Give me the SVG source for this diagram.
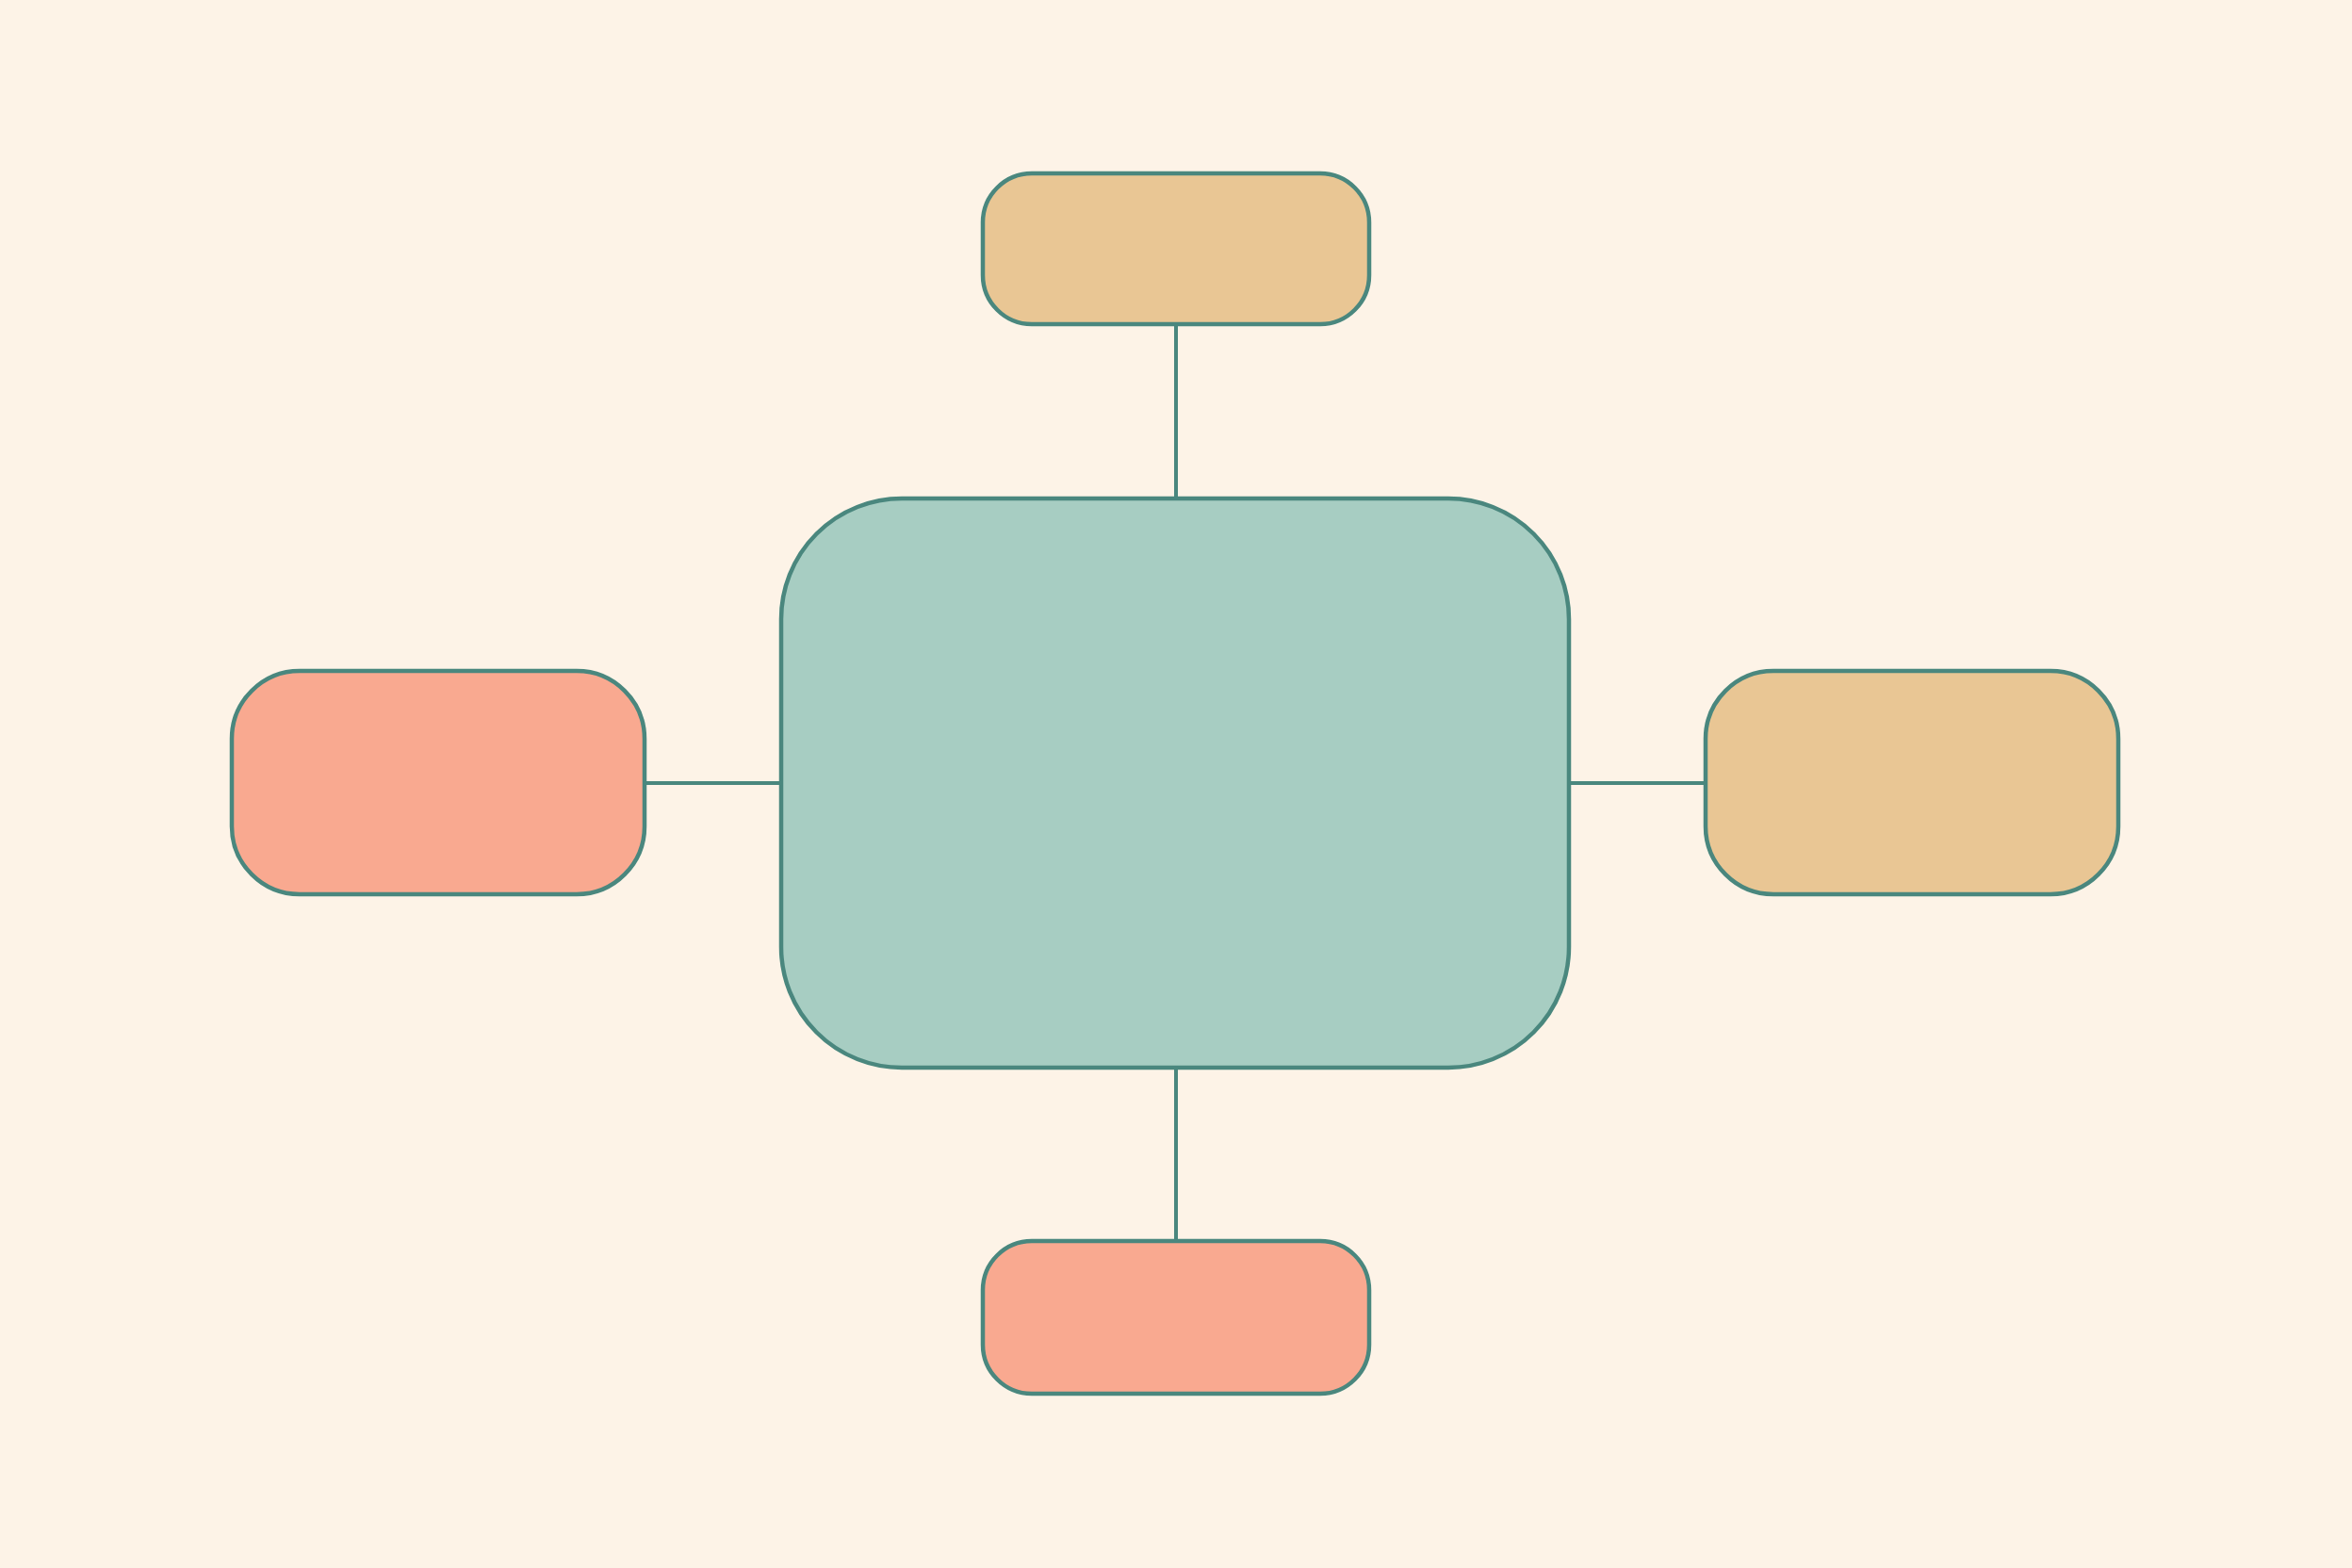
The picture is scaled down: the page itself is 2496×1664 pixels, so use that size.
<svg xmlns="http://www.w3.org/2000/svg" width="2496" height="1664" viewBox="0 0 2496 1664">
  <style>
    .node { stroke: #4a877e; stroke-width: 4.5; }
    .edge { stroke: #4a877e; stroke-width: 4; fill: none; }
    .tan { fill: #e9c694; }
    .salmon { fill: #f9a990; }
    .teal { fill: #a7cdc2; }
  </style>
  <rect x="0" y="0" width="2496" height="1664" fill="#fdf3e7"/>
  <g id="connectors">
    <line class="edge" x1="1248" y1="344" x2="1248" y2="529"/>
    <line class="edge" x1="1248" y1="1133" x2="1248" y2="1317"/>
    <line class="edge" x1="684" y1="831" x2="829" y2="831"/>
    <line class="edge" x1="1665" y1="831" x2="1810" y2="831"/>
  </g>
  <g id="node-center">
    <rect class="node teal" x="829" y="529" width="836" height="604" rx="128" ry="128"/>
  </g>
  <g id="node-top">
    <rect class="node tan" x="1043" y="184" width="410" height="160" rx="52" ry="52"/>
  </g>
  <g id="node-bottom">
    <rect class="node salmon" x="1043" y="1317" width="410" height="162" rx="52" ry="52"/>
  </g>
  <g id="node-left">
    <rect class="node salmon" x="246" y="712" width="438" height="237" rx="72" ry="72"/>
  </g>
  <g id="node-right">
    <rect class="node tan" x="1810" y="712" width="438" height="237" rx="72" ry="72"/>
  </g>
</svg>
